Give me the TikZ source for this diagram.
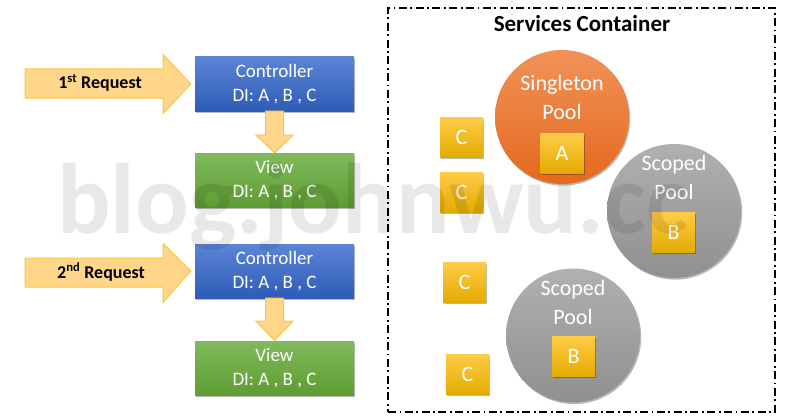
\documentclass[tikz,border=0pt]{standalone}
\usepackage{fontspec}
\setmainfont{Carlito}
\usetikzlibrary{shadows,calc}
\definecolor{ctrlTop}{HTML}{5B84D6}
\definecolor{ctrlBot}{HTML}{2E5CB6}
\definecolor{viewTop}{HTML}{80BA5C}
\definecolor{viewBot}{HTML}{5E9C33}
\definecolor{sqTop}{HTML}{FFCC48}
\definecolor{sqMid}{HTML}{FFC000}
\definecolor{sqBot}{HTML}{E3AB00}
\definecolor{orTop}{HTML}{F29258}
\definecolor{orBot}{HTML}{E4691E}
\definecolor{grTop}{HTML}{B0B0B0}
\definecolor{grBot}{HTML}{909090}
\definecolor{arrFill}{HTML}{FFD68A}
\definecolor{arrLine}{HTML}{FCC63F}
\begin{document}
\begin{tikzpicture}[x=1pt,y=-1pt,
  shad/.style={drop shadow={shadow xshift=1.2pt,shadow yshift=-1.6pt,opacity=0.28,fill=black}},
  ctrlbox/.style={rectangle,inner sep=0pt,minimum width=159pt,minimum height=54pt,top color=ctrlTop,bottom color=ctrlBot,text=white,align=center,font=\fontsize{19}{24}\selectfont,shad},
  viewbox/.style={ctrlbox,top color=viewTop,bottom color=viewBot},
  sqbox/.style={rectangle,inner sep=0pt,minimum width=43pt,minimum height=40pt,top color=sqTop,middle color=sqMid,bottom color=sqBot,text=white,font=\fontsize{22}{26}\selectfont,shad},
  pool/.style={circle,inner sep=0pt,minimum size=134pt,shad},
  singlepool/.style={pool,top color=orTop,bottom color=orBot},
  scopedpool/.style={pool,top color=grTop,bottom color=grBot},
  pooltext/.style={text=white,align=center,font=\fontsize{22}{29}\selectfont,inner sep=0pt},
  blockarrow/.style={fill=arrFill,draw=arrLine,line width=1pt,line join=miter},
  reqtext/.style={font=\fontsize{18}{20}\selectfont\bfseries,inner sep=0pt}
]
\useasboundingbox (0,0) rectangle (800,420);

% container
\node[draw=black,line width=2pt,dash pattern=on 8pt off 3.5pt on 1.8pt off 3.5pt,minimum width=387pt,minimum height=404pt,inner sep=0pt] (cont) at (581.5,210) {};
\node[font=\fontsize{23}{26}\selectfont\bfseries,inner sep=0pt] (title) at (582,24) {Services Container};

% left column
\node[ctrlbox] (c1) at (274.5,84) {Controller\\DI: A , B , C};
\node[viewbox] (v1) at (274.5,180.5) {View\\DI: A , B , C};
\node[ctrlbox] (c2) at (274.5,271) {Controller\\DI: A , B , C};
\node[viewbox] (v2) at (274.5,368) {View\\DI: A , B , C};

% request arrows
\draw[blockarrow] (25,69) -- (163,69) -- (163,54.5) -- ($(c1.west)+(-4,0)$) -- (163,113.5) -- (163,98) -- (25,98) -- cycle;
\node[reqtext] (r1) at (100,83) {1\textsuperscript{st} Request};
\draw[blockarrow] (25,258) -- (163,258) -- (163,243.5) -- ($(c2.west)+(-4,0)$) -- (163,302.5) -- (163,287) -- (25,287) -- cycle;
\node[reqtext] (r2) at (101,272) {2\textsuperscript{nd} Request};

% down arrows
\draw[blockarrow] ($(c1.south)+(-9,0)$) -- ($(c1.south)+(9,0)$) -- ($(c1.south)+(9,24)$) -- ($(c1.south)+(18.5,24)$) -- ($(v1.north)+(0,-0.5)$) -- ($(c1.south)+(-18.5,24)$) -- ($(c1.south)+(-9,24)$) -- cycle;
\draw[blockarrow] ($(c2.south)+(-9,0)$) -- ($(c2.south)+(9,0)$) -- ($(c2.south)+(9,23)$) -- ($(c2.south)+(18.5,23)$) -- ($(v2.north)+(0,-0.5)$) -- ($(c2.south)+(-18.5,23)$) -- ($(c2.south)+(-9,23)$) -- cycle;

% pools
\node[singlepool] (sp) at (562,117) {};
\node[pooltext] (spt) at (562,97) {Singleton\\Pool};
\node[sqbox] (a) at (562,153) {A};

\node[scopedpool] (s1) at (674,211) {};
\node[pooltext] (s1t) at (674,177) {Scoped\\Pool};
\node[sqbox] (b1) at (673.5,232) {B};

\node[scopedpool] (s2) at (573,335.5) {};
\node[pooltext] (s2t) at (573,302) {Scoped\\Pool};
\node[sqbox] (b2) at (573.5,356) {B};

% C instances
\node[sqbox] (c_1) at (461.5,137) {C};
\node[sqbox] (c_2) at (461.5,192) {C};
\node[sqbox] (c_3) at (464.5,282) {C};
\node[sqbox] (c_4) at (467.5,374) {C};

% watermark
\node[anchor=base west,inner sep=0pt,font=\fontsize{100}{100}\selectfont\bfseries,text=black,opacity=0.09] (wm) at (57,233) {blog.johnwu.cc};
\end{tikzpicture}
\end{document}
